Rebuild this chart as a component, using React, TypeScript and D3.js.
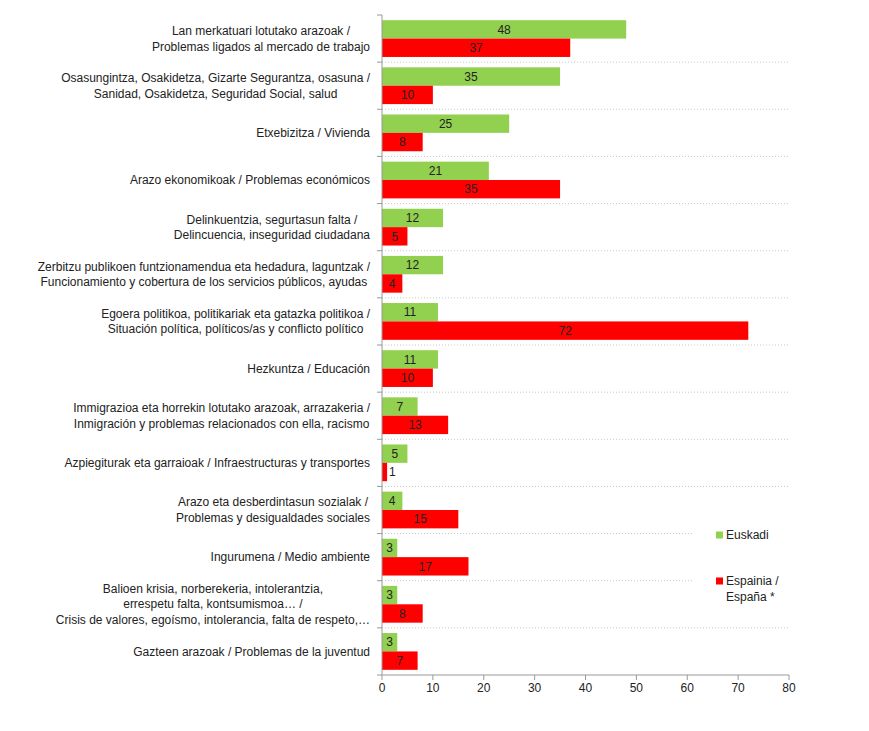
import { useEffect, useRef } from "react";
import * as d3 from "d3";

// category labels, one array of lines per category
const categoryLabels: string[][] = [
  ["Lan merkatuari lotutako arazoak /", "Problemas ligados al mercado de trabajo"],
  ["Osasungintza, Osakidetza, Gizarte Segurantza, osasuna /", "Sanidad, Osakidetza, Seguridad Social, salud"],
  ["Etxebizitza / Vivienda "],
  ["Arazo ekonomikoak / Problemas económicos"],
  ["Delinkuentzia, segurtasun falta /", "Delincuencia, inseguridad ciudadana"],
  ["Zerbitzu publikoen funtzionamendua eta hedadura, laguntzak /", "Funcionamiento y cobertura de los servicios públicos, ayudas"],
  ["Egoera politikoa, politikariak eta gatazka politikoa /", "Situación política, políticos/as y conflicto político"],
  ["Hezkuntza / Educación"],
  ["Immigrazioa eta horrekin lotutako arazoak, arrazakeria /", "Inmigración y problemas relacionados con ella, racismo"],
  ["Azpiegiturak eta garraioak / Infraestructuras y transportes"],
  ["Arazo eta desberdintasun sozialak /", "Problemas y desigualdades sociales"],
  ["Ingurumena / Medio ambiente"],
  ["Balioen krisia, norberekeria, intolerantzia,", "errespetu falta, kontsumismoa… /", "Crisis de valores, egoísmo, intolerancia, falta de respeto,…"],
  ["Gazteen arazoak / Problemas de la juventud"],
];

const euskadi = [48, 35, 25, 21, 12, 12, 11, 11, 7, 5, 4, 3, 3, 3];
const espana = [37, 10, 8, 35, 5, 4, 72, 10, 13, 1, 15, 17, 8, 7];

const xTicks = [0, 10, 20, 30, 40, 50, 60, 70, 80];

const series = [
  { key: "eus", name: ["Euskadi"], color: "#92D050", values: euskadi },
  { key: "esp", name: ["Espainia /", "España *"], color: "#FF0000", values: espana },
];

const W = 869;
const H = 731;
const FONT = "'Liberation Sans', Arial, sans-serif";

function Chart() {
  const svgRef = useRef<SVGSVGElement>(null);

  useEffect(() => {
    if (!svgRef.current) return;
    const svg = d3.select(svgRef.current);
    svg.selectAll("*").remove();

    const left = 382;
    const right = 789;
    const top = 15;
    const bottom = 675;

    const x = d3.scaleLinear().domain([0, 80]).range([left, right]);
    const ids = categoryLabels.map((_, i) => String(i));
    const y = d3
      .scaleBand()
      .domain(ids)
      .range([top, bottom])
      .paddingInner(0.22)
      .paddingOuter(0.11);
    const inner = d3
      .scaleBand()
      .domain(series.map((s) => s.key))
      .range([0, y.bandwidth()]);

    const step = y.step();
    const boundaries = ids.map((id) => y(id)! - (step * 0.22) / 2).concat([bottom]);

    // dotted separators
    svg
      .append("g")
      .selectAll("line")
      .data(boundaries.slice(1, -1))
      .enter()
      .append("line")
      .attr("x1", left)
      .attr("x2", right)
      .attr("y1", (d) => d)
      .attr("y2", (d) => d)
      .attr("stroke", "#c8c8c8")
      .attr("stroke-width", 1)
      .attr("stroke-dasharray", "1,2");

    // category ticks
    svg
      .append("g")
      .selectAll("line")
      .data(boundaries)
      .enter()
      .append("line")
      .attr("x1", left - 5)
      .attr("x2", left)
      .attr("y1", (d) => d)
      .attr("y2", (d) => d)
      .attr("stroke", "#999");

    // bars
    series.forEach((s) => {
      const g = svg.append("g");
      g.selectAll("rect")
        .data(s.values)
        .enter()
        .append("rect")
        .attr("x", x(0))
        .attr("y", (_, i) => y(ids[i])! + inner(s.key)!)
        .attr("width", (d) => x(d) - x(0))
        .attr("height", inner.bandwidth())
        .attr("fill", s.color);

      g.selectAll("text")
        .data(s.values)
        .enter()
        .append("text")
        .attr("y", (_, i) => y(ids[i])! + inner(s.key)! + inner.bandwidth() / 2)
        .attr("dy", "0.35em")
        .style("font-family", FONT)
        .style("font-size", "12px")
        .style("fill", "#222")
        .text((d) => d)
        .each(function (d) {
          const t = d3.select(this);
          const w = (this as SVGTextElement).getComputedTextLength();
          const bw = x(d) - x(0);
          if (bw < w + 2) {
            t.attr("x", x(d) + 2).attr("text-anchor", "start");
          } else {
            t.attr("x", x(0) + bw / 2).attr("text-anchor", "middle");
          }
        });
    });

    // axes lines
    svg
      .append("line")
      .attr("x1", left)
      .attr("x2", left)
      .attr("y1", top)
      .attr("y2", bottom)
      .attr("stroke", "#999");

    const xAxis = svg.append("g");
    xAxis
      .append("line")
      .attr("x1", left)
      .attr("x2", right)
      .attr("y1", bottom)
      .attr("y2", bottom)
      .attr("stroke", "#999");
    xAxis
      .selectAll("line.tick")
      .data(xTicks)
      .enter()
      .append("line")
      .attr("class", "tick")
      .attr("x1", (d) => x(d))
      .attr("x2", (d) => x(d))
      .attr("y1", bottom)
      .attr("y2", bottom + 5)
      .attr("stroke", "#999");
    xAxis
      .selectAll("text")
      .data(xTicks)
      .enter()
      .append("text")
      .attr("x", (d) => x(d))
      .attr("y", bottom + 13)
      .attr("dy", "0.35em")
      .attr("text-anchor", "middle")
      .style("font-family", FONT)
      .style("font-size", "12px")
      .style("fill", "#222")
      .text((d) => d);

    // category labels: block right-aligned, lines centred within block
    const labelRight = 370;
    const lineH = 15.5;
    categoryLabels.forEach((lines, i) => {
      const cy = y(ids[i])! + y.bandwidth() / 2;
      const g = svg.append("g");
      const texts = g
        .selectAll("text")
        .data(lines)
        .enter()
        .append("text")
        .attr("y", (_, j) => cy + (j - (lines.length - 1) / 2) * lineH)
        .attr("dy", "0.35em")
        .attr("text-anchor", "middle")
        .style("font-family", FONT)
        .style("font-size", "12px")
        .style("fill", "#222")
        .text((d) => d);
      let maxW = 0;
      texts.each(function () {
        maxW = Math.max(maxW, (this as SVGTextElement).getComputedTextLength());
      });
      texts.attr("x", labelRight - maxW / 2);
    });

    // legend
    const legend = svg.append("g");
    legend
      .append("rect")
      .attr("x", 692)
      .attr("y", 515)
      .attr("width", 105)
      .attr("height", 95)
      .attr("fill", "#fff");
    const legendY = [535, 581];
    series.forEach((s, i) => {
      legend
        .append("rect")
        .attr("x", 716)
        .attr("y", legendY[i] - 3.5)
        .attr("width", 7)
        .attr("height", 7)
        .attr("fill", s.color);
      legend
        .selectAll(`text.l${i}`)
        .data(s.name)
        .enter()
        .append("text")
        .attr("class", `l${i}`)
        .attr("x", 726)
        .attr("y", (_, j) => legendY[i] + j * 15.5)
        .attr("dy", "0.35em")
        .style("font-family", FONT)
        .style("font-size", "12px")
        .style("fill", "#222")
        .text((d) => d);
    });
  }, []);

  return <svg ref={svgRef} width={W} height={H} style={{ display: "block", background: "#fff" }} />;
}

export default function App() {
  return (
    <div style={{ position: "absolute", left: 0, top: 0 }}>
      <Chart />
    </div>
  );
}
